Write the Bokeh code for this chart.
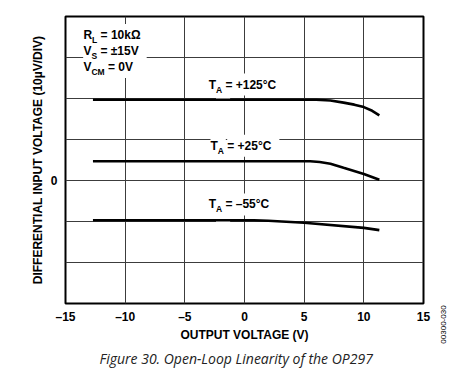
import math
from bokeh.plotting import figure
from bokeh.layouts import row, column, Spacer
from bokeh.models import Label, FixedTicker, Range1d, Title
from bokeh.embed import file_html
from bokeh.resources import INLINE

# ---- data (output voltage in V, differential input in divisions of 10 uV) ----
x_125 = [-12.7, 6.0, 7.2, 8.3, 9.2, 10.0, 10.7, 11.3]
y_125 = [1.97, 1.97, 1.95, 1.90, 1.85, 1.79, 1.70, 1.59]

x_25 = [-12.7, 5.5, 6.3, 7.2, 8.3, 10.0, 11.3]
y_25 = [0.47, 0.47, 0.45, 0.41, 0.31, 0.16, 0.02]

x_m55 = [-12.7, 0.8, 2.0, 5.0, 10.0, 11.3]
y_m55 = [-0.97, -0.97, -0.98, -1.03, -1.155, -1.21]

x_ticks = [-15, -10, -5, 0, 5, 10, 15]
x_tick_labels = ["\u201315", "\u201310", "\u20135", "0", "5", "10", "15"]
y_ticks = [-3, -2, -1, 0, 1, 2, 3, 4]
y_tick_labels = ["", "", "", "0", "", "", "", ""]

FONT = "Liberation Sans"

p = figure(width=435, height=380, output_backend="svg", toolbar_location=None,
           x_range=Range1d(-15, 15), y_range=Range1d(-3, 4),
           min_border_left=65, min_border_right=12, min_border_top=16,
           min_border_bottom=77)
p.background_fill_color = "white"
p.border_fill_color = "white"
p.outline_line_color = "black"
p.outline_line_width = 2

p.xaxis.ticker = FixedTicker(ticks=x_ticks)
p.yaxis.ticker = FixedTicker(ticks=y_ticks)
p.xaxis.major_label_overrides = {t: l for t, l in zip(x_ticks, x_tick_labels)}
p.yaxis.major_label_overrides = {t: l for t, l in zip(y_ticks, y_tick_labels)}
for ax in (p.xaxis, p.yaxis):
    ax.axis_line_color = None
    ax.major_tick_line_color = None
    ax.minor_tick_line_color = None
    ax.major_tick_out = 0
    ax.major_tick_in = 0
    ax.minor_tick_out = 0
    ax.minor_tick_in = 0
    ax.major_label_text_font = FONT
    ax.major_label_text_font_style = "bold"
    ax.major_label_text_font_size = "12px"
    ax.major_label_text_color = "black"
    ax.axis_label_text_font = FONT
    ax.axis_label_text_font_style = "bold"
    ax.axis_label_text_font_size = "12px"
    ax.axis_label_text_color = "black"
p.xaxis.major_label_standoff = 6
p.yaxis.major_label_standoff = 8
p.xaxis.axis_label = "OUTPUT VOLTAGE (V)"
p.yaxis.axis_label = "DIFFERENTIAL INPUT VOLTAGE (10\u00b5V/DIV)"
p.xaxis.axis_label_standoff = 1
p.yaxis.axis_label_standoff = 3

p.grid.grid_line_color = "#3c3c3c"
p.grid.grid_line_width = 1
p.grid.grid_line_alpha = 1

for xs, ys in ((x_125, y_125), (x_25, y_25), (x_m55, y_m55)):
    p.line(xs, ys, line_color="black", line_width=2.6)

SPACE = 3.3

# annotation texts: (x, y, main, subscript, rest, main width px, sub width px)
annotations = [
    (-3.0, 2.34, "T", "A", "= +125\u00b0C", 7.3, 6.1),
    (-2.85, 0.85, "T", "A", "= +25\u00b0C", 7.3, 6.1),
    (-3.0, -0.585, "T", "A", "= \u201355\u00b0C", 7.3, 6.1),
    (-13.5, 3.55, "R", "L", "= 10k\u03a9", 8.7, 5.2),
    (-13.5, 3.16, "V", "S", "= \u00b115V", 8.0, 5.7),
    (-13.5, 2.77, "V", "CM", "= 0V", 8.0, 13.2),
]


def pieces_of(a):
    x, y, main, sub, rest, w_main, w_sub = a
    return [
        (x, y, main, 0, 12, "middle"),
        (x, y, sub, w_main, 8.5, "top"),
        (x, y, rest, w_main + w_sub + SPACE, 12, "middle"),
    ]


# white boxes first (under the curves, over the grid)
for a in annotations:
    for x, y, txt, off, sz, base in pieces_of(a):
        p.add_layout(Label(x=x, y=y, x_offset=off, text=txt, text_font=FONT,
                           text_font_style="bold", text_font_size=f"{sz}px",
                           text_baseline=base, text_color="white",
                           background_fill_color="white", padding=4,
                           level="underlay"))
for a in annotations:
    for x, y, txt, off, sz, base in pieces_of(a):
        p.add_layout(Label(x=x, y=y, x_offset=off, text=txt, text_font=FONT,
                           text_font_style="bold", text_font_size=f"{sz}px",
                           text_baseline=base, text_color="black"))

p.add_layout(Title(text="Figure 30. Open-Loop Linearity of the OP297",
                   align="left", offset=34, standoff=4,
                   text_font="Open Sans", text_font_style="italic",
                   text_font_size="14px", text_color="#222222"), "below")

# small strip at the lower right for the vertical figure id
side = figure(width=32, height=77, output_backend="svg", toolbar_location=None,
              x_range=Range1d(0, 32), y_range=Range1d(0, 77),
              x_axis_type=None, y_axis_type=None,
              min_border=0, min_border_left=0, min_border_right=0,
              min_border_top=0, min_border_bottom=0)
side.outline_line_color = None
side.grid.visible = False
side.background_fill_color = "white"
side.border_fill_color = "white"
side.add_layout(Label(x=8, y=56, text="00300-030", angle=math.pi / 2,
                      text_align="center", text_baseline="middle",
                      text_font=FONT, text_font_size="8px", text_color="black"))

layout = row(p, column(Spacer(width=32, height=303), side, spacing=0), spacing=0)
open("out.html", "w").write(file_html(layout, INLINE))
